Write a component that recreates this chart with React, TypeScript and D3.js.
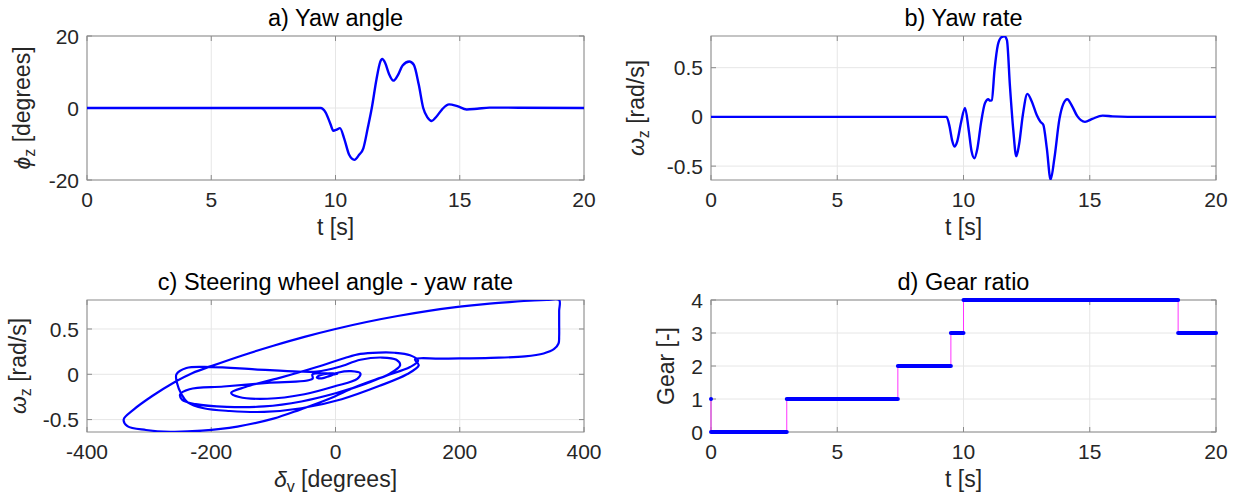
import * as d3 from "d3";

const W = 1236;
const H = 499;

// a) yaw angle [degrees] over time [s]
const yawTime = [0, 9.0, 9.4, 9.6, 9.8, 9.91, 10.05, 10.18, 10.35, 10.55, 10.76, 10.95, 11.12, 11.3, 11.46, 11.65, 11.8, 11.88, 12.0, 12.15, 12.33, 12.5, 12.7, 12.97, 13.15, 13.35, 13.53, 13.7, 13.87, 14.05, 14.3, 14.57, 14.9, 15.28, 15.7, 16.2, 20];
const yawAngle = [0, 0, 0, -1.2, -4.5, -6.3, -6.0, -5.6, -8.5, -13, -14.4, -13, -11.2, -5.5, 0, 8, 12.8, 13.6, 12.5, 9.5, 7.6, 9, 11.8, 12.9, 12, 6.5, 0, -2.6, -3.6, -2.5, -0.3, 1.0, 0.5, -0.4, -0.2, 0.1, 0];

// b) yaw rate [rad/s] over time [s]
const rateTime = [0, 9.0, 9.33, 9.45, 9.55, 9.64, 9.75, 9.9, 10.06, 10.2, 10.32, 10.43, 10.55, 10.7, 10.85, 10.98, 11.05, 11.12, 11.23, 11.36, 11.5, 11.62, 11.72, 11.84, 11.97, 12.09, 12.2, 12.35, 12.53, 12.7, 12.9, 13.05, 13.16, 13.3, 13.45, 13.6, 13.8, 13.95, 14.11, 14.3, 14.5, 14.81, 15.1, 15.51, 15.9, 16.5, 20];
const yawRate = [0, 0, 0, -0.1, -0.24, -0.3, -0.25, -0.06, 0.09, -0.12, -0.35, -0.42, -0.32, -0.05, 0.14, 0.18, 0.165, 0.17, 0.48, 0.73, 0.81, 0.82, 0.78, 0.31, -0.13, -0.4, -0.28, 0.02, 0.234, 0.16, 0.02, -0.05, -0.08, -0.32, -0.637, -0.42, -0.02, 0.13, 0.18, 0.11, 0.01, -0.05, -0.02, 0.013, 0.005, 0, 0];

// c) steering wheel angle [degrees] vs yaw rate [rad/s], in path order
const steerAngle = [
  0, -37, -37, -110, -180, -235,
  -250, -247, -225, -175, -115, -55, 0, 50, 88, 104, 98, 75, 40, 5, -30, -60, -130, -200, -240, -256, -255,
  -248, -238, -212, -170, -115, -55, 10, 70, 115, 134, 128,
  170, 250, 305, 335, 352, 359, 360, 360, 360, 360,
  340, 320, 280, 240, 200, 150, 100, 50, 0, -50, -100, -150, -200, -230, -260, -295, -325, -341, -335, -305, -266, -215, -158, -100, -57, -10, 32, 80, 120, 133, 120, 95, 70, 40, 15,
  -30, -90, -145, -168, -155, -110, -50, 0, 35, 40, 25, 5, -10, -22, -30, -25, -10, 3, 0,
];
const steerRate = [
  0, 0, -0.05, -0.095, -0.135, -0.165,
  -0.22, -0.28, -0.33, -0.36, -0.355, -0.3, -0.21, -0.1, 0.01, 0.1, 0.16, 0.185, 0.16, 0.08, 0.03, 0.03, 0.055, 0.08, 0.07, 0, -0.1,
  -0.22, -0.31, -0.375, -0.405, -0.415, -0.375, -0.275, -0.13, 0, 0.1, 0.165,
  0.172, 0.182, 0.198, 0.23, 0.28, 0.34, 0.42, 0.56, 0.7, 0.82,
  0.82, 0.815, 0.797, 0.775, 0.746, 0.7, 0.643, 0.577, 0.5, 0.413, 0.315, 0.208, 0.09, 0.015, -0.09, -0.24, -0.39, -0.5, -0.572, -0.615, -0.634, -0.622, -0.577, -0.49, -0.39, -0.27, -0.14, -0.02, 0.08, 0.15, 0.21, 0.238, 0.24, 0.225, 0.18,
  0.08, -0.04, -0.14, -0.205, -0.25, -0.27, -0.22, -0.13, -0.05, 0.01, 0.035, 0.02, -0.02, -0.045, -0.035, -0.01, 0.01, 0.005, 0,
];

// d) gear over time
const gearTime = [0, 0, 3.0, 7.4, 9.5, 10.0, 18.5, 20];
const gearValue = [1, 0, 1, 2, 3, 4, 3, 3];

const timeTicks = [0, 5, 10, 15, 20];
const yawTicks = [-20, 0, 20];
const rateTicks = [-0.5, 0, 0.5];
const angleTicks = [-400, -200, 0, 200, 400];
const gearTicks = [0, 1, 2, 3, 4];

const FONT = "'Liberation Sans', Arial, Helvetica, sans-serif";
const TXT = "#262626";
const AX = "#8a8a8a";
const GRID = "#e6e6e6";
const BLUE = "#0000ff";

type Scale = d3.ScaleLinear<number, number>;

interface PanelProps {
  id: string;
  left: number;
  top: number;
  width: number;
  height: number;
  xDomain: [number, number];
  yDomain: [number, number];
  xTicks: number[];
  yTicks: number[];
  title: string;
  xLabel: React.ReactNode;
  yLabel: React.ReactNode;
  yLabelX: number;
  clip?: boolean;
  children: (x: Scale, y: Scale) => React.ReactNode;
}

function Panel(p: PanelProps) {
  const x = d3.scaleLinear().domain(p.xDomain).range([p.left, p.left + p.width]);
  const y = d3.scaleLinear().domain(p.yDomain).range([p.top + p.height, p.top]);
  const bottom = p.top + p.height;
  const right = p.left + p.width;
  const tick = 5;
  const cx = p.left + p.width / 2;
  const cy = p.top + p.height / 2;
  const clip = p.clip !== false;
  return (
    <g>
      <clipPath id={p.id}>
        <rect x={p.left} y={p.top} width={p.width} height={p.height} />
      </clipPath>
      {p.xTicks.map((t) => (
        <line key={"gx" + t} x1={x(t)} x2={x(t)} y1={p.top} y2={bottom} stroke={GRID} />
      ))}
      {p.yTicks.map((t) => (
        <line key={"gy" + t} x1={p.left} x2={right} y1={y(t)} y2={y(t)} stroke={GRID} />
      ))}
      <rect x={p.left} y={p.top} width={p.width} height={p.height} fill="none" stroke={AX} />
      {p.xTicks.map((t) => (
        <g key={"tx" + t}>
          <line x1={x(t)} x2={x(t)} y1={bottom} y2={bottom - tick} stroke={AX} />
          <line x1={x(t)} x2={x(t)} y1={p.top} y2={p.top + tick} stroke={AX} />
          <text x={x(t)} y={bottom + 27} textAnchor="middle" fontSize={21} fill={TXT}>
            {String(t)}
          </text>
        </g>
      ))}
      {p.yTicks.map((t) => (
        <g key={"ty" + t}>
          <line x1={p.left} x2={p.left + tick} y1={y(t)} y2={y(t)} stroke={AX} />
          <line x1={right} x2={right - tick} y1={y(t)} y2={y(t)} stroke={AX} />
          <text x={p.left - 8} y={y(t)} dy="0.36em" textAnchor="end" fontSize={21} fill={TXT}>
            {String(t)}
          </text>
        </g>
      ))}
      <g clipPath={clip ? `url(#${p.id})` : undefined}>{p.children(x, y)}</g>
      <text x={cx} y={p.top - 10} textAnchor="middle" fontSize={23.5} fill="#000">
        {p.title}
      </text>
      <text x={cx} y={bottom + 55} textAnchor="middle" fontSize={23} fill={TXT}>
        {p.xLabel}
      </text>
      <text transform={`translate(${p.yLabelX},${cy}) rotate(-90)`} textAnchor="middle" fontSize={23} fill={TXT}>
        {p.yLabel}
      </text>
    </g>
  );
}

function Sub({ sym, sub, rest }: { sym: string; sub: string; rest: string }) {
  return (
    <>
      <tspan fontStyle="italic">{sym}</tspan>
      <tspan fontSize={16} dy={5}>{sub}</tspan>
      <tspan dy={-5}>{rest}</tspan>
    </>
  );
}

export default function App() {
  const lineAt = (xs: number[], ys: number[], x: Scale, y: Scale, curve: d3.CurveFactory) =>
    d3
      .line<number>()
      .x((_, i) => x(xs[i]))
      .y((_, i) => y(ys[i]))
      .curve(curve)(xs) || "";

  return (
    <svg
      width={W}
      height={H}
      style={{ position: "absolute", left: 0, top: 0, background: "#fff", fontFamily: FONT }}
    >
      <Panel
        id="clipA"
        left={87}
        top={36}
        width={497}
        height={144}
        xDomain={[0, 20]}
        yDomain={[-20, 20]}
        xTicks={timeTicks}
        yTicks={yawTicks}
        title="a) Yaw angle"
        xLabel="t [s]"
        yLabel={<Sub sym="ϕ" sub="z" rest=" [degrees]" />}
        yLabelX={30}
      >
        {(x, y) => (
          <path d={lineAt(yawTime, yawAngle, x, y, d3.curveMonotoneX)} fill="none" stroke={BLUE} strokeWidth={2.4} />
        )}
      </Panel>

      <Panel
        id="clipB"
        left={711}
        top={36}
        width={505}
        height={144}
        xDomain={[0, 20]}
        yDomain={[-0.641, 0.822]}
        xTicks={timeTicks}
        yTicks={rateTicks}
        title="b) Yaw rate"
        xLabel="t [s]"
        yLabel={<Sub sym="ω" sub="z" rest=" [rad/s]" />}
        yLabelX={644}
      >
        {(x, y) => (
          <path d={lineAt(rateTime, yawRate, x, y, d3.curveMonotoneX)} fill="none" stroke={BLUE} strokeWidth={2.4} />
        )}
      </Panel>

      <Panel
        id="clipC"
        left={87}
        top={300}
        width={497}
        height={132}
        xDomain={[-400, 400]}
        yDomain={[-0.637, 0.82]}
        xTicks={angleTicks}
        yTicks={rateTicks}
        title="c) Steering wheel angle - yaw rate"
        xLabel={<Sub sym="δ" sub="v" rest=" [degrees]" />}
        yLabel={<Sub sym="ω" sub="z" rest=" [rad/s]" />}
        yLabelX={26}
      >
        {(x, y) => (
          <path
            d={lineAt(steerAngle, steerRate, x, y, d3.curveCatmullRom.alpha(0.5))}
            fill="none"
            stroke={BLUE}
            strokeWidth={2.2}
          />
        )}
      </Panel>

      <Panel
        id="clipD"
        left={711}
        top={300}
        width={505}
        height={132}
        xDomain={[0, 20]}
        yDomain={[0, 4]}
        xTicks={timeTicks}
        yTicks={gearTicks}
        title="d) Gear ratio"
        xLabel="t [s]"
        yLabel="Gear [-]"
        yLabelX={674}
        clip={false}
      >
        {(x, y) => (
          <g>
            <path d={lineAt(gearTime, gearValue, x, y, d3.curveStepAfter)} fill="none" stroke="#ff33ff" strokeWidth={1} />
            {gearTime.slice(0, -1).map((t, i) => (
              <line
                key={i}
                x1={x(t)}
                x2={x(gearTime[i + 1])}
                y1={y(gearValue[i])}
                y2={y(gearValue[i])}
                stroke={BLUE}
                strokeWidth={4}
                strokeLinecap="round"
              />
            ))}
          </g>
        )}
      </Panel>
    </svg>
  );
}
